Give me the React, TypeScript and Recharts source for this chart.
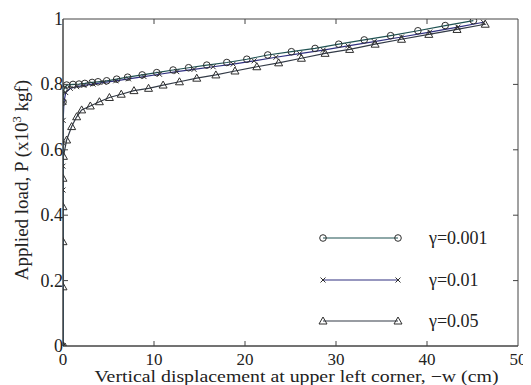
import React from "react";
import { LineChart, Line, XAxis, YAxis, ReferenceArea } from "recharts";

// ---- Data ----
const seriesNames = ["γ=0.001", "γ=0.01", "γ=0.05"];

const w001 = [0, 0, 0.1, 0.4, 1.1, 1.76, 2.4, 3.2, 3.85, 4.8, 5.9, 7.1, 8.7, 10.3, 12.1, 13.8, 15.8, 18.0, 20.2, 22.5, 25.1, 27.7, 30.3, 33.1, 36.0, 39.0, 42.0, 45.1];
const p001 = [0, 0.746, 0.785, 0.798, 0.8, 0.801, 0.803, 0.806, 0.808, 0.811, 0.816, 0.822, 0.829, 0.836, 0.844, 0.851, 0.859, 0.867, 0.877, 0.89, 0.9, 0.91, 0.923, 0.936, 0.949, 0.964, 0.98, 0.995];

const w01 = [0, 0, 0, 0, 0.02, 0.1, 0.3, 0.8, 1.5, 2.3, 3.3, 4.5, 5.8, 7.2, 8.9, 10.6, 12.5, 14.4, 16.5, 18.7, 21.0, 23.4, 26.0, 28.6, 31.3, 34.2, 37.2, 40.3, 43.4, 46.2];
const p01 = [0, 0.477, 0.55, 0.62, 0.69, 0.745, 0.775, 0.788, 0.793, 0.797, 0.801, 0.806, 0.811, 0.817, 0.824, 0.831, 0.839, 0.846, 0.854, 0.862, 0.872, 0.883, 0.894, 0.905, 0.918, 0.931, 0.945, 0.96, 0.975, 0.99];

const w05 = [0, 0, 0, 0, 0, 0.05, 0.4, 0.95, 1.5, 2.05, 3.0, 4.0, 5.1, 6.4, 7.8, 9.4, 11.0, 12.8, 14.7, 16.8, 18.9, 21.3, 23.7, 26.2, 28.8, 31.5, 34.3, 37.2, 40.2, 43.3, 46.4];
const p05 = [0, 0.181, 0.319, 0.426, 0.513, 0.58, 0.63, 0.671, 0.701, 0.722, 0.734, 0.747, 0.76, 0.77, 0.781, 0.788, 0.798, 0.808, 0.819, 0.829, 0.841, 0.854, 0.866, 0.88, 0.895, 0.907, 0.923, 0.938, 0.953, 0.968, 0.984];

const xTicks = [0, 10, 20, 30, 40, 50];
const yTicks = [0, 0.2, 0.4, 0.6, 0.8, 1];
const yTickLabels = ["0", "0.2", "0.4", "0.6", "0.8", "1"];

const toRows = (w: number[], p: number[]) => w.map((v, i) => ({ w: v, p: p[i] }));
const d001 = toRows(w001, p001);
const d01 = toRows(w01, p01);
const d05 = toRows(w05, p05);

// ---- Styling ----
const FONT = "Liberation Serif";
const W = 523;
const H = 377;
const MARGIN = { top: 11, right: 13, bottom: 0, left: 0 };
const Y_W = 55;
const X_H = 39;
const PLOT_W = W - MARGIN.left - MARGIN.right - Y_W;
const PLOT_H = H - MARGIN.top - MARGIN.bottom - X_H;
const AXIS = "#444";
const TEXT = "#222";
const C1 = "#1f5252";
const C2 = "#303080";
const C3 = "#323a46";
const MK = "#2e2e2e";
const txtStyle = { fontFamily: FONT };

const CircleDot = (props: any) => {
  const { cx, cy, index } = props;
  if (cx == null || cy == null) return <g key={index} />;
  return <circle key={index} cx={cx} cy={cy} r={3.3} fill="none" stroke={MK} strokeWidth={1} />;
};
const CrossDot = (props: any) => {
  const { cx, cy, index } = props;
  if (cx == null || cy == null) return <g key={index} />;
  const s = 2.5;
  return (
    <g key={index} stroke={MK} strokeWidth={1}>
      <line x1={cx - s} y1={cy - s} x2={cx + s} y2={cy + s} />
      <line x1={cx - s} y1={cy + s} x2={cx + s} y2={cy - s} />
    </g>
  );
};
const TriDot = (props: any) => {
  const { cx, cy, index } = props;
  if (cx == null || cy == null) return <g key={index} />;
  const s = 4;
  return (
    <polygon
      key={index}
      points={`${cx},${cy - s} ${cx - s},${cy + s * 0.75} ${cx + s},${cy + s * 0.75}`}
      fill="none"
      stroke={MK}
      strokeWidth={1}
    />
  );
};

const XTick = (props: any) => {
  const { x, y, payload } = props;
  const v = payload.value;
  const inner = v !== 0 && v !== 50;
  return (
    <g>
      {inner && <line x1={x} x2={x} y1={y} y2={y - 5} stroke={AXIS} />}
      {inner && <line x1={x} x2={x} y1={y - PLOT_H} y2={y - PLOT_H + 5} stroke={AXIS} />}
      <text x={x} y={y + 19} textAnchor="middle" style={txtStyle} fontSize={17} fill={TEXT}>
        {v}
      </text>
    </g>
  );
};

const YTick = (props: any) => {
  const { x, y, payload } = props;
  const v = payload.value;
  const idx = yTicks.indexOf(v);
  const inner = v !== 0 && v !== 1;
  return (
    <g>
      {inner && <line x1={x} x2={x + 5} y1={y} y2={y} stroke={AXIS} />}
      {inner && <line x1={x + PLOT_W} x2={x + PLOT_W - 5} y1={y} y2={y} stroke={AXIS} />}
      <text x={x} y={y + 6} textAnchor="end" style={txtStyle} fontSize={18} fill={TEXT}>
        {idx >= 0 ? yTickLabels[idx] : v}
      </text>
    </g>
  );
};

const YLabel = (props: any) => {
  const vb = props.viewBox || { x: 0, y: 0, height: 0 };
  const cx = 20;
  const cy = vb.y + vb.height / 2 - 2.5;
  return (
    <text
      x={cx}
      y={cy}
      transform={`rotate(-90, ${cx}, ${cy})`}
      textAnchor="middle"
      style={txtStyle}
      fontSize={19}
      fill={TEXT}
    >
      Applied load, P (x10
      <tspan dy={-7} fontSize={12.5}>3</tspan>
      <tspan dy={7}> kgf)</tspan>
    </text>
  );
};

const XLabel = (props: any) => {
  const vb = props.viewBox || { x: 0, y: 0, width: 0 };
  return (
    <text
      x={vb.x + vb.width / 2 + 6}
      y={H - 3}
      textAnchor="middle"
      style={txtStyle}
      fontSize={16.5}
      textLength={404}
      lengthAdjust="spacingAndGlyphs"
      fill={TEXT}
    >
      Vertical displacement at upper left corner, −w (cm)
    </text>
  );
};

const legendRows = [
  { name: seriesNames[0], color: C1, kind: "circle" },
  { name: seriesNames[1], color: C2, kind: "cross" },
  { name: seriesNames[2], color: C3, kind: "tri" },
];

const LegendOverlay = () => {
  const x1 = 315;
  const x2 = 390;
  const ys = [230, 272, 313];
  const marker = (kind: string, cx: number, cy: number, k: string) => {
    if (kind === "circle") return <CircleDot key={k} cx={cx} cy={cy} index={k} />;
    if (kind === "cross") return <CrossDot key={k} cx={cx} cy={cy} index={k} />;
    return <TriDot key={k} cx={cx} cy={cy} index={k} />;
  };
  return (
    <svg width={W} height={H} style={{ position: "absolute", left: 0, top: 0, pointerEvents: "none" }}>
      {legendRows.map((r, i) => (
        <g key={r.name}>
          <line x1={x1} x2={x2} y1={ys[i]} y2={ys[i]} stroke={r.color} strokeWidth={1.2} />
          {marker(r.kind, x1, ys[i], r.name + "a")}
          {marker(r.kind, x2, ys[i], r.name + "b")}
          <text x={421} y={ys[i] + 6} style={txtStyle} fontSize={18} fill={TEXT}>
            {r.name}
          </text>
        </g>
      ))}
    </svg>
  );
};

export default function App() {
  return (
    <div style={{ position: "relative", width: W, height: H }}>
      <LineChart width={W} height={H} margin={MARGIN}>
        <XAxis
          dataKey="w"
          type="number"
          domain={[0, 50]}
          ticks={xTicks}
          allowDataOverflow
          height={X_H}
          tickSize={0}
          tickMargin={0}
          tickLine={false}
          axisLine={{ stroke: AXIS }}
          tick={<XTick />}
          label={<XLabel />}
        />
        <YAxis
          dataKey="p"
          type="number"
          domain={[0, 1]}
          ticks={yTicks}
          allowDataOverflow
          width={Y_W}
          tickSize={0}
          tickMargin={0}
          tickLine={false}
          axisLine={{ stroke: AXIS }}
          tick={<YTick />}
          label={<YLabel />}
        />
        <ReferenceArea x1={0} x2={50} y1={0} y2={1} fill="none" stroke={AXIS} strokeWidth={1} ifOverflow="visible" />
        <Line data={d05} dataKey="p" stroke={C3} strokeWidth={1.2} dot={<TriDot />} isAnimationActive={false} />
        <Line data={d01} dataKey="p" stroke={C2} strokeWidth={1.2} dot={<CrossDot />} isAnimationActive={false} />
        <Line data={d001} dataKey="p" stroke={C1} strokeWidth={1.2} dot={<CircleDot />} isAnimationActive={false} />
      </LineChart>
      <LegendOverlay />
    </div>
  );
}
